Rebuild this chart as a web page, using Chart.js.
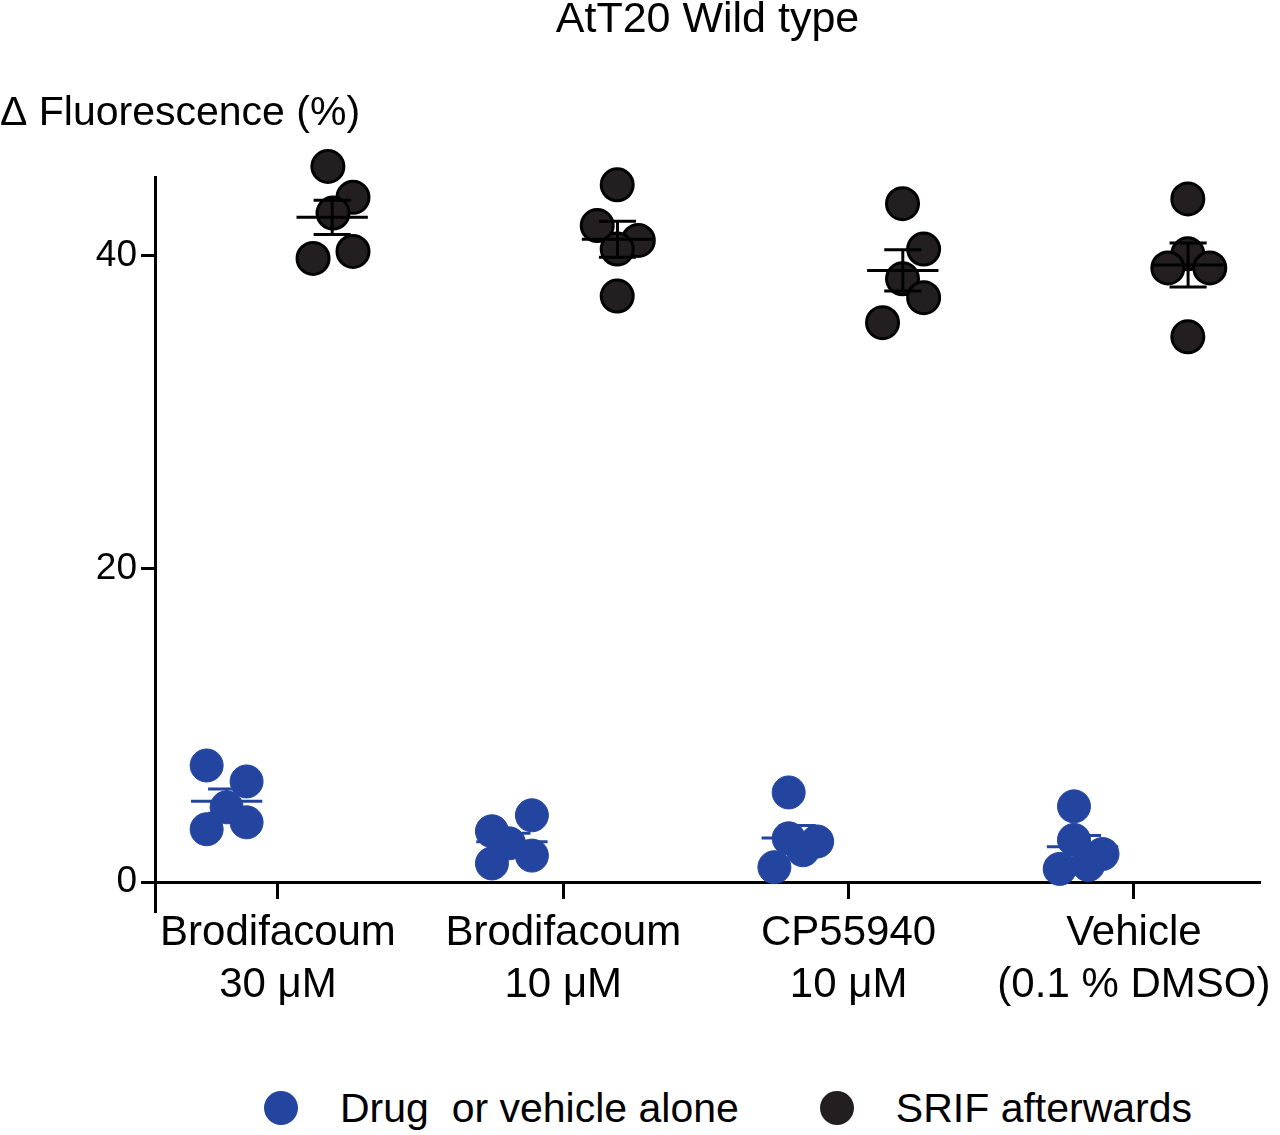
<!DOCTYPE html>
<html>
<head>
<meta charset="utf-8">
<title>AtT20 Wild type</title>
<script src="https://cdn.jsdelivr.net/npm/chart.js@4"></script>
<style>
  body { margin: 0; background: #fff; font-family: "Liberation Sans", Arial, sans-serif; }
  #wrap { position: relative; width: 1280px; height: 1135px; }
  #box { position: absolute; left: 0; top: 0; width: 1280px; height: 1050px; }
  #legend { position: absolute; left: 264px; top: 1091px; display: flex; align-items: center; height: 34px; }
  .item { display: flex; align-items: center; margin-right: 81px; }
  .dot { width: 34px; height: 34px; border-radius: 50%; box-sizing: border-box; }
  .lbl { margin-left: 42px; font-size: 41px; color: #000; white-space: pre; }
</style>
</head>
<body>
<div id="wrap">
  <div id="box"><canvas id="chart"></canvas></div>
  <div id="legend"></div>
</div>
<script>
// categories on the x axis (multi-line labels)
var categories = [['Brodifacoum', '30 μM'], ['Brodifacoum', '10 μM'], ['CP55940', '10 μM'], ['Vehicle', '(0.1 % DMSO)']]
var yTicks = [0, 20, 40]
var seriesNames = ['Drug  or vehicle alone', 'SRIF afterwards']

// Δ fluorescence (%) per cell, one row per category
var drugValues = [
    [7.45, 6.43, 4.78, 3.38, 3.82],
    [3.25, 4.27, 1.20, 1.70, 2.48],
    [5.73, 2.80, 2.60, 2.04, 0.96],
    [4.84, 2.70, 1.80, 1.10, 0.85]
]
var srifValues = [
    [45.67, 43.70, 42.70, 39.80, 40.25],
    [44.50, 41.90, 40.95, 40.40, 37.40],
    [43.30, 40.40, 38.50, 37.30, 35.70],
    [43.60, 40.10, 39.20, 39.20, 34.80]
]
// horizontal scatter of each dot around its category (category units)
var drugJitter = [
    [-0.25, -0.11, -0.18, -0.25, -0.11],
    [-0.25, -0.11, -0.25, -0.11, -0.19],
    [-0.21, -0.21, -0.11, -0.16, -0.26],
    [-0.21, -0.21, -0.11, -0.16, -0.26]
]
var srifJitter = [
    [0.175, 0.263, 0.193, 0.123, 0.263],
    [0.189, 0.119, 0.263, 0.189, 0.189],
    [0.189, 0.263, 0.189, 0.263, 0.119],
    [0.189, 0.189, 0.119, 0.266, 0.189]
]

var BLUE = '#2345a0'
var DARK = '#231f20'

function points(values, jitter) {
    var out = []
    values.forEach((g, i) => {
        g.forEach((v, j) => out.push({ x: i + 1 + jitter[i][j], y: v }))
    })
    return out
}

function mean(a) { return a.reduce((s, v) => s + v, 0) / a.length }
function sem(a) {
    var m = mean(a)
    var ss = a.reduce((s, v) => s + (v - m) * (v - m), 0)
    return Math.sqrt(ss / (a.length - 1)) / Math.sqrt(a.length)
}

// mean line + sem whiskers, segments split by null
function errorBars(values, offset) {
    var out = []
    values.forEach((g, i) => {
        var c = i + 1 + offset, m = mean(g), s = sem(g)
        out.push({ x: c - 0.125, y: m }, { x: c + 0.125, y: m }, { x: c, y: null })
        out.push({ x: c, y: m - s }, { x: c, y: m + s }, { x: c, y: null })
        out.push({ x: c - 0.065, y: m + s }, { x: c + 0.065, y: m + s }, { x: c, y: null })
        out.push({ x: c - 0.065, y: m - s }, { x: c + 0.065, y: m - s }, { x: c, y: null })
    })
    return out
}

var font = 'Liberation Sans, Arial, sans-serif'

var chart = new Chart(document.getElementById('chart').getContext('2d'), {
    type: 'scatter',
    data: {
        datasets: [
            {
                label: seriesNames[0],
                data: points(drugValues, drugJitter),
                backgroundColor: BLUE,
                borderColor: BLUE,
                borderWidth: 1,
                pointRadius: 16.5,
                clip: false,
                order: 4
            },
            {
                label: seriesNames[1],
                data: points(srifValues, srifJitter),
                backgroundColor: DARK,
                borderColor: '#000',
                borderWidth: 3,
                pointRadius: 16,
                clip: false,
                order: 3
            },
            {
                type: 'line',
                label: 'mean drug',
                data: errorBars(drugValues, -0.18),
                borderColor: BLUE,
                borderWidth: 3,
                pointRadius: 0,
                spanGaps: false,
                clip: false,
                order: 1
            },
            {
                type: 'line',
                label: 'mean srif',
                data: errorBars(srifValues, 0.19),
                borderColor: '#000',
                borderWidth: 3,
                pointRadius: 0,
                spanGaps: false,
                clip: false,
                order: 1
            }
        ]
    },
    options: {
        responsive: true,
        maintainAspectRatio: false,
        animation: false,
        layout: { padding: { left: 0, right: 20, top: 0, bottom: 138 } },
        plugins: {
            legend: { display: false },
            tooltip: { enabled: false },
            title: {
                display: true,
                fullSize: false,
                text: 'AtT20 Wild type',
                color: '#000',
                font: { family: font, size: 43, weight: 'normal', lineHeight: 1 },
                padding: { top: -1, bottom: 0 }
            },
            subtitle: {
                display: true,
                text: 'Δ Fluorescence (%)',
                align: 'start',
                color: '#000',
                font: { family: font, size: 41, weight: 'normal', lineHeight: 1 },
                padding: { top: 51, bottom: 43 }
            }
        },
        scales: {
            x: {
                type: 'linear',
                position: { y: 0 },
                min: 0.569,
                max: 4.442,
                afterFit: (scale) => { scale.paddingLeft = 0; scale.paddingRight = 0 },
                afterBuildTicks: (scale) => { scale.ticks = categories.map((c, i) => ({ value: i + 1 })) },
                ticks: {
                    color: '#000',
                    font: { family: font, size: 42, lineHeight: 1.22 },
                    padding: 11,
                    maxRotation: 0,
                    autoSkip: false,
                    callback: (v) => categories[Math.round(v) - 1]
                },
                grid: { drawOnChartArea: false, drawTicks: true, tickLength: 15, tickColor: '#000', tickWidth: 3 },
                border: { display: true, color: '#000', width: 3 }
            },
            y: {
                type: 'linear',
                position: 'left',
                min: -1.9,
                max: 45,
                afterFit: (scale) => { scale.width = 155 },
                afterBuildTicks: (scale) => { scale.ticks = yTicks.map(v => ({ value: v })) },
                ticks: {
                    color: '#000',
                    font: { family: font, size: 37 },
                    padding: 4
                },
                grid: { drawOnChartArea: false, drawTicks: true, tickLength: 14, tickColor: '#000', tickWidth: 3 },
                border: { display: true, color: '#000', width: 3 }
            }
        }
    }
})

// legend built from the two point datasets
var legend = document.getElementById('legend')
chart.data.datasets.slice(0, 2).forEach(ds => {
    var item = document.createElement('div')
    item.className = 'item'
    var dot = document.createElement('div')
    dot.className = 'dot'
    dot.style.background = ds.backgroundColor
    var lbl = document.createElement('span')
    lbl.className = 'lbl'
    lbl.textContent = ds.label
    item.appendChild(dot)
    item.appendChild(lbl)
    legend.appendChild(item)
})
</script>
</body>
</html>
